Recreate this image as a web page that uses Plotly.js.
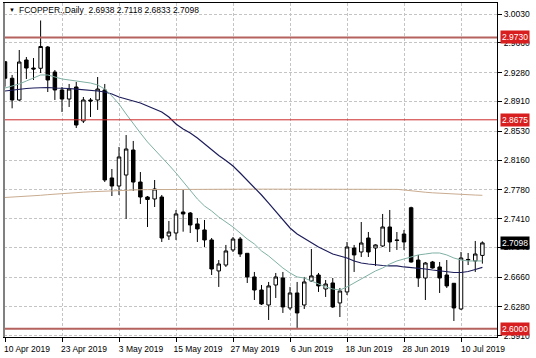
<!DOCTYPE html>
<html><head><meta charset="utf-8">
<script src="https://cdn.plot.ly/plotly-3.0.1.min.js"></script>
<style>html,body{margin:0;padding:0;background:#fff;}#chart{width:536px;height:358px;}</style>
</head><body><div id="chart"></div>
<script>
const dates = ["2019-04-10","2019-04-11","2019-04-12","2019-04-15","2019-04-16","2019-04-17","2019-04-18","2019-04-22","2019-04-23","2019-04-24",
"2019-04-25","2019-04-26","2019-04-29","2019-04-30","2019-05-01","2019-05-02","2019-05-03","2019-05-06","2019-05-07","2019-05-08",
"2019-05-09","2019-05-10","2019-05-13","2019-05-14","2019-05-15","2019-05-16","2019-05-17","2019-05-20","2019-05-21","2019-05-22",
"2019-05-23","2019-05-24","2019-05-27","2019-05-28","2019-05-29","2019-05-30","2019-05-31","2019-06-03","2019-06-04","2019-06-05",
"2019-06-06","2019-06-07","2019-06-10","2019-06-11","2019-06-12","2019-06-13","2019-06-14","2019-06-17","2019-06-18","2019-06-19",
"2019-06-20","2019-06-21","2019-06-24","2019-06-25","2019-06-26","2019-06-27","2019-06-28","2019-07-01","2019-07-02","2019-07-03",
"2019-07-04","2019-07-05","2019-07-08","2019-07-09","2019-07-10","2019-07-11","2019-07-12","2019-07-15"];

const open = [2.9419,2.9207,2.8929,2.9441,2.9338,2.9335,2.9607,2.9287,2.9057,2.8941,
2.9095,2.8660,2.8929,2.8929,2.9057,2.7930,2.7827,2.7968,2.8288,2.7878,
2.7686,2.7661,2.7686,2.7187,2.7225,2.7494,2.7481,2.7341,2.7264,2.7136,
2.6739,2.6815,2.7008,2.7148,2.6965,2.6662,2.6495,2.6303,2.6559,2.6649,
2.6265,2.6457,2.6303,2.6611,2.6687,2.6508,2.6585,2.6329,2.6470,2.7033,
2.6982,2.7161,2.7033,2.7059,2.7302,2.7136,2.7212,2.7549,2.6879,2.6649,
2.6854,2.6790,2.6687,2.6581,2.6252,2.6879,2.6867,2.6938];
const high = [2.9428,2.9249,2.9569,2.9479,2.9466,2.9947,2.9620,2.9313,2.9095,2.9134,
2.9159,2.8967,2.8954,2.9223,2.9134,2.8045,2.8327,2.8480,2.8404,2.8006,
2.7699,2.7904,2.7712,2.7379,2.7520,2.7776,2.7494,2.7417,2.7392,2.7161,
2.6879,2.7072,2.7174,2.7174,2.6969,2.6726,2.6559,2.6598,2.6713,2.6726,
2.6534,2.6598,2.6662,2.7020,2.6713,2.6623,2.6649,2.6521,2.7110,2.7072,
2.7366,2.7238,2.7080,2.7469,2.7520,2.7238,2.7264,2.7562,2.6944,2.6854,
2.6867,2.6854,2.6879,2.6585,2.6982,2.6969,2.7123,2.7118];
const low = [2.9099,2.8822,2.8916,2.9198,2.9185,2.9274,2.9031,2.8929,2.8775,2.8839,
2.8570,2.8634,2.8711,2.8801,2.7878,2.7699,2.7712,2.7405,2.7763,2.7597,
2.7302,2.7558,2.7110,2.7136,2.7136,2.7242,2.7225,2.7110,2.7046,2.6687,
2.6534,2.6790,2.6982,2.6918,2.6585,2.6367,2.6303,2.6111,2.6393,2.6201,
2.6239,2.6009,2.6252,2.6598,2.6470,2.6406,2.6265,2.6149,2.6431,2.6726,
2.6918,2.6918,2.6803,2.7046,2.6982,2.7008,2.7008,2.6845,2.6534,2.6367,
2.6770,2.6457,2.6521,2.6098,2.6239,2.6815,2.6726,2.6833];
const close = [2.9207,2.8929,2.9415,2.9338,2.9326,2.9614,2.9185,2.9057,2.8941,2.9069,
2.8608,2.8929,2.8916,2.9069,2.7904,2.7827,2.8199,2.8301,2.7878,2.7686,
2.7654,2.7789,2.7161,2.7238,2.7469,2.7469,2.7328,2.7277,2.7136,2.6764,
2.6828,2.6995,2.7148,2.6956,2.6662,2.6495,2.6316,2.6547,2.6662,2.6278,
2.6457,2.6201,2.6598,2.6675,2.6547,2.6572,2.6278,2.6482,2.7046,2.6944,
2.7097,2.6982,2.7072,2.7302,2.7110,2.7130,2.7110,2.6854,2.6649,2.6841,
2.6777,2.6649,2.6547,2.6265,2.6905,2.6886,2.6956,2.7098];

const maFast = [2.9082,2.9108,2.9134,2.9172,2.9210,2.9249,2.9249,2.9223,2.9198,2.9185,
2.9172,2.9159,2.9146,2.9121,2.9069,2.8980,2.8877,2.8749,2.8621,2.8506,
2.8391,2.8288,2.8186,2.8096,2.7994,2.7878,2.7776,2.7661,2.7571,2.7507,
2.7430,2.7366,2.7302,2.7225,2.7148,2.7084,2.6995,2.6931,2.6854,2.6777,
2.6713,2.6662,2.6649,2.6611,2.6572,2.6534,2.6508,2.6495,2.6534,2.6585,
2.6636,2.6687,2.6739,2.6777,2.6828,2.6867,2.6892,2.6918,2.6944,2.6956,
2.6969,2.6969,2.6944,2.6905,2.6879,2.6867,2.6867,2.6867];
const maMid = [2.9044,2.9057,2.9069,2.9076,2.9082,2.9089,2.9089,2.9082,2.9082,2.9076,
2.9069,2.9063,2.9057,2.9044,2.9031,2.9005,2.8967,2.8941,2.8916,2.8890,
2.8852,2.8813,2.8775,2.8711,2.8621,2.8557,2.8506,2.8442,2.8365,2.8288,
2.8218,2.8154,2.8083,2.7994,2.7904,2.7814,2.7712,2.7609,2.7507,2.7392,
2.7289,2.7212,2.7155,2.7097,2.7046,2.7001,2.6956,2.6931,2.6905,2.6867,
2.6841,2.6828,2.6815,2.6809,2.6803,2.6803,2.6790,2.6784,2.6777,2.6764,
2.6751,2.6739,2.6726,2.6719,2.6719,2.6732,2.6758,2.6784];
const maSlow = [2.7680,2.7684,2.7689,2.7694,2.7700,2.7708,2.7716,2.7724,2.7731,2.7737,
2.7743,2.7748,2.7753,2.7758,2.7763,2.7767,2.7771,2.7774,2.7777,2.7779,
2.7781,2.7782,2.7783,2.7784,2.7785,2.7786,2.7786,2.7787,2.7787,2.7787,
2.7787,2.7787,2.7787,2.7787,2.7787,2.7787,2.7787,2.7787,2.7787,2.7787,
2.7786,2.7787,2.7787,2.7787,2.7787,2.7787,2.7787,2.7787,2.7787,2.7787,
2.7787,2.7787,2.7787,2.7786,2.7786,2.7784,2.7776,2.7764,2.7755,2.7747,
2.7740,2.7734,2.7728,2.7723,2.7719,2.7715,2.7711,2.7708];

const tickDates = ["2019-04-10","2019-04-23","2019-05-03","2019-05-15","2019-05-27","2019-06-06","2019-06-18","2019-06-28","2019-07-10"];
const tickLabels = ["10 Apr 2019","23 Apr 2019","3 May 2019","15 May 2019","27 May 2019","6 Jun 2019","18 Jun 2019","28 Jun 2019","10 Jul 2019"];
const priceTicks = [3.0030,2.9660,2.9280,2.8910,2.8530,2.8160,2.7780,2.7410,2.7040,2.6660,2.6280,2.5910];
const levels = [2.9730,2.8675,2.6000];
const symbol = "FCOPPER.,Daily";

const F = "Liberation Sans, Arial, sans-serif";
const traces = [
  {type:'scatter',mode:'lines',x:dates,y:maSlow,line:{color:'#c9ac90',width:1},hoverinfo:'skip'},
  {type:'scatter',mode:'lines',x:dates,y:maMid,line:{color:'#1c1c5a',width:1.2},hoverinfo:'skip'},
  {type:'scatter',mode:'lines',x:dates,y:maFast,line:{color:'#7fb0a4',width:1},hoverinfo:'skip'},
  {type:'candlestick',x:dates,open:open,high:high,low:low,close:close,whiskerwidth:0,
   increasing:{line:{color:'#000',width:1},fillcolor:'#fff'},
   decreasing:{line:{color:'#000',width:1},fillcolor:'#000'}}
];
const last = close[close.length-1];
const shapes = [
  {type:'line',xref:'paper',x0:0,x1:1,yref:'y',y0:levels[0],y1:levels[0],line:{color:'#b5625e',width:2},layer:'above'},
  {type:'line',xref:'paper',x0:0,x1:1,yref:'y',y0:levels[1],y1:levels[1],line:{color:'#cc2a2a',width:1},layer:'above'},
  {type:'line',xref:'paper',x0:0,x1:1,yref:'y',y0:levels[2],y1:levels[2],line:{color:'#b5625e',width:2},layer:'above'},
  {type:'line',xref:'paper',x0:0,x1:0,yref:'paper',y0:0,y1:1,line:{color:'#808080',width:2},layer:'above'}
];
const lab = (v,bg)=>({xref:'paper',x:1,xanchor:'left',xshift:3,yref:'y',y:v,yanchor:'middle',
  text:v.toFixed(4),showarrow:false,bgcolor:bg,borderpad:1,font:{family:F,size:8.5,color:'#fff'}});
const annotations = [
  lab(levels[0],'#d81e1e'),lab(levels[1],'#d81e1e'),lab(levels[2],'#d81e1e'),lab(last,'#000'),
  {xref:'paper',x:0,xanchor:'left',xshift:3,yref:'paper',y:0.978,yanchor:'middle',text:'▼',showarrow:false,font:{family:F,size:6,color:'#000'}},
  {xref:'paper',x:0,xanchor:'left',xshift:13,yref:'paper',y:0.978,yanchor:'middle',showarrow:false,
   text:symbol+'  '+[open[67],high[67],low[67],close[67]].map(v=>v.toFixed(4)).join(' '),font:{family:F,size:8.5,color:'#000'}}
];
const layout = {
  width:536,height:358,margin:{l:4,r:39,t:3,b:21},paper_bgcolor:'#fff',plot_bgcolor:'#fff',showlegend:false,
  font:{family:F,size:8.5,color:'#000'},
  xaxis:{type:'category',range:[-0.14,69.05],rangeslider:{visible:false},tickmode:'array',tickvals:tickDates,ticktext:tickLabels,
    ticks:'outside',ticklen:4,tickcolor:'#000',ticklabelshift:22,showgrid:true,gridcolor:'#c4c4c4',griddash:'3px,2px',gridwidth:1,
    showline:true,linecolor:'#000',linewidth:1,mirror:true,zeroline:false,fixedrange:true},
  yaxis:{side:'right',range:[2.5893,3.0171],tickmode:'array',tickvals:priceTicks,tickformat:'.4f',ticks:'outside',ticklen:4,tickcolor:'#000',
    showgrid:true,gridcolor:'#c4c4c4',griddash:'3px,2px',gridwidth:1,showline:true,linecolor:'#000',linewidth:1,mirror:true,zeroline:false,fixedrange:true},
  shapes:shapes,annotations:annotations
};
Plotly.newPlot('chart',traces,layout,{displayModeBar:false,staticPlot:true});
</script></body></html>
